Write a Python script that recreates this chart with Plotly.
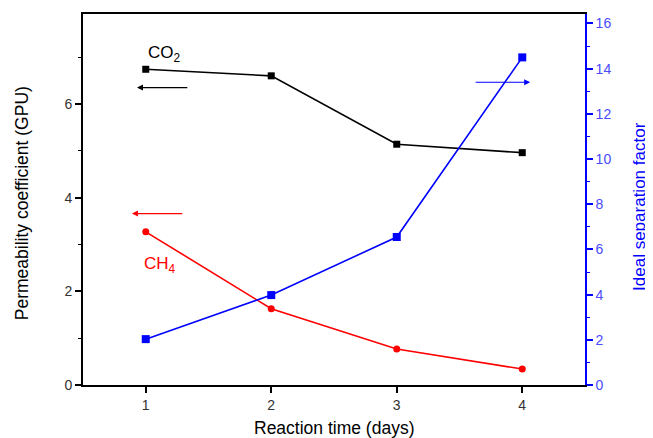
import plotly.graph_objects as go

days = [1, 2, 3, 4]
co2_perm = [6.74, 6.60, 5.14, 4.96]
ch4_perm = [3.27, 1.63, 0.77, 0.34]
selectivity = [2.03, 3.98, 6.55, 14.5]

x_title = "Reaction time (days)"
y_title = "Permeability coefficient (GPU)"
y2_title = "Ideal separation factor"

FONT = "Liberation Sans, Arial, sans-serif"
BLUE = "#0000ff"
RED = "#ff0000"

fig = go.Figure()
fig.add_trace(go.Scatter(x=days, y=co2_perm, mode="lines+markers",
                         line=dict(color="black", width=1.6),
                         marker=dict(symbol="square", size=7, color="black"),
                         yaxis="y", showlegend=False))
fig.add_trace(go.Scatter(x=days, y=ch4_perm, mode="lines+markers",
                         line=dict(color=RED, width=1.6),
                         marker=dict(symbol="circle", size=7, color=RED),
                         yaxis="y", showlegend=False))
fig.add_trace(go.Scatter(x=days, y=selectivity, mode="lines+markers",
                         line=dict(color=BLUE, width=1.6),
                         marker=dict(symbol="square", size=8, color=BLUE),
                         yaxis="y2", showlegend=False))

annotations = [
    dict(x=0.93, y=6.35, ax=1.343, ay=6.35, xref="x", yref="y", axref="x", ayref="y",
         showarrow=True, arrowhead=2, arrowsize=1, arrowwidth=1.2, arrowcolor="black", text=""),
    dict(x=0.89, y=3.66, ax=1.303, ay=3.66, xref="x", yref="y", axref="x", ayref="y",
         showarrow=True, arrowhead=2, arrowsize=1, arrowwidth=1.2, arrowcolor=RED, text=""),
    dict(x=4.063, y=13.4, ax=3.617, ay=13.4, xref="x", yref="y2", axref="x", ayref="y2",
         showarrow=True, arrowhead=2, arrowsize=1, arrowwidth=1.2, arrowcolor=BLUE, text=""),
    dict(x=1.15, y=7.07, xref="x", yref="y", text="CO<sub>2</sub>", showarrow=False,
         font=dict(family=FONT, size=17, color="black")),
    dict(x=1.11, y=2.56, xref="x", yref="y", text="CH<sub>4</sub>", showarrow=False,
         font=dict(family=FONT, size=17, color=RED)),
    # axis titles
    dict(x=0.5, y=0, xref="paper", yref="paper", text=x_title, showarrow=False,
         xanchor="center", yanchor="middle", yshift=-43,
         font=dict(family=FONT, size=17.5, color="black")),
    dict(x=0, y=0.49, xref="paper", yref="paper", text=y_title, showarrow=False,
         textangle=-90, xanchor="center", yanchor="middle", xshift=-61,
         font=dict(family=FONT, size=17.5, color="black")),
    dict(x=1, y=0.48, xref="paper", yref="paper", text=y2_title, showarrow=False,
         textangle=-90, xanchor="center", yanchor="middle", xshift=55,
         font=dict(family=FONT, size=17, color=BLUE)),
]

fig.update_layout(
    width=645, height=430,
    margin=dict(l=75, r=68, t=6, b=53, autoexpand=False),
    paper_bgcolor="white", plot_bgcolor="white",
    font=dict(family=FONT, size=14, color="#333333"),
    annotations=annotations,
    xaxis=dict(range=[0.5, 4.5], tickvals=days, ticktext=[str(d) for d in days],
               automargin=False,
               showline=True, linecolor="black", linewidth=1.6, mirror=True,
               ticks="outside", ticklen=6, tickwidth=1.6, tickcolor="black",
               showgrid=False, zeroline=False,
               tickfont=dict(family=FONT, size=14, color="#333333")),
    yaxis=dict(range=[0, 7.92], dtick=2, tick0=0, automargin=False,
               showline=True, linecolor="black", linewidth=1.6,
               ticks="outside", ticklen=6, tickwidth=1.6, tickcolor="black",
               minor=dict(dtick=1, ticks="outside", ticklen=3, tickwidth=1.3, tickcolor="black"),
               showgrid=False, zeroline=False,
               tickfont=dict(family=FONT, size=14, color="#333333")),
    yaxis2=dict(range=[0, 16.42], dtick=2, tick0=0, overlaying="y", side="right",
                automargin=False,
                showline=True, linecolor=BLUE, linewidth=1.6,
                ticks="outside", ticklen=6, tickwidth=1.6, tickcolor=BLUE,
                minor=dict(dtick=1, ticks="outside", ticklen=3, tickwidth=1.3, tickcolor=BLUE),
                showgrid=False, zeroline=False,
                tickfont=dict(family=FONT, size=14, color="#4a4aff")),
)

fig.write_html("out.html")
